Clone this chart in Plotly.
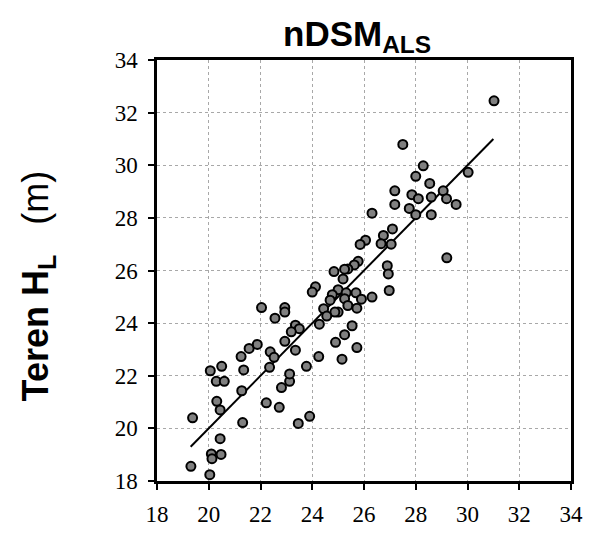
import plotly.graph_objects as go

# Measured data (nDSM_ALS on x, field height H_L on y)
x_vals = [
    22.56, 23.35, 23.50, 23.19, 22.94, 23.35, 21.56, 21.875, 21.25, 22.375,
    22.525, 22.35, 21.35, 20.06, 20.50, 20.29, 20.60, 21.275, 20.31, 20.44,
    19.375, 21.31, 22.225, 22.725, 22.81, 23.125, 23.125, 23.775, 23.46, 23.90,
    20.44, 20.10, 20.475, 20.125, 19.31, 20.04, 22.04, 22.94, 22.94,
    26.31, 26.75, 27.10, 26.06, 25.85, 26.66, 27.05, 25.775, 25.625, 25.375,
    25.25, 24.84, 25.19, 26.90, 26.94, 26.975, 24.125, 24.00, 25.00, 24.775,
    25.31, 25.69, 25.90, 26.31, 25.25, 24.69, 25.375, 25.725, 24.44, 25.00,
    24.875, 24.56, 24.275, 25.54, 25.25, 24.90, 25.725, 24.25, 25.15,
    31.025, 27.50, 28.29, 28.00, 28.54, 30.025, 27.19, 27.85, 28.10, 28.60,
    29.06, 29.19, 29.56, 27.19, 27.75, 28.00, 28.60, 29.20,
]
y_vals = [
    24.19, 23.92, 23.79, 23.67, 23.31, 22.97, 23.04, 23.19, 22.73, 22.91,
    22.70, 22.32, 22.22, 22.19, 22.36, 21.79, 21.79, 21.43, 21.03, 20.70,
    20.40, 20.22, 20.97, 20.80, 21.55, 21.79, 22.07, 22.36, 20.19, 20.46,
    19.61, 19.03, 19.01, 18.85, 18.56, 18.24, 24.59, 24.59, 24.42,
    28.18, 27.33, 27.58, 27.15, 26.99, 27.02, 27.00, 26.35, 26.21, 26.06,
    26.05, 25.96, 25.68, 26.18, 25.87, 25.24, 25.38, 25.18, 25.27, 25.08,
    25.15, 25.15, 24.91, 24.99, 24.93, 24.87, 24.67, 24.57, 24.55, 24.42,
    24.42, 24.27, 23.96, 23.90, 23.56, 23.27, 23.07, 22.73, 22.63,
    32.45, 30.79, 29.98, 29.58, 29.31, 29.73, 29.03, 28.88, 28.73, 28.79,
    29.03, 28.73, 28.51, 28.51, 28.36, 28.12, 28.12, 26.48,
]

# Fitted line end points
fit_x = [19.3, 31.0]
fit_y = [19.3, 31.0]

tick_vals = [18, 20, 22, 24, 26, 28, 30, 32, 34]
tick_text = [str(v) for v in tick_vals]

SERIF = "Times New Roman, Liberation Serif, serif"
SANS = "Arial, Liberation Sans, sans-serif"

fig = go.Figure()
fig.add_trace(go.Scatter(
    x=fit_x, y=fit_y, mode="lines",
    line=dict(color="black", width=2), showlegend=False, hoverinfo="skip",
))
fig.add_trace(go.Scatter(
    x=x_vals, y=y_vals, mode="markers",
    marker=dict(size=9, color="#808080", line=dict(color="black", width=2)),
    showlegend=False,
))

axis_common = dict(
    range=[18, 34], tickmode="array", tickvals=tick_vals, ticktext=tick_text,
    showline=True, linecolor="black", linewidth=2.5, mirror=True,
    ticks="outside", ticklen=6, tickwidth=2, tickcolor="black",
    showgrid=True, gridcolor="#a8a8a8", gridwidth=1, griddash="dot",
    zeroline=False,
    tickfont=dict(family=SERIF, size=23, color="black"),
)

fig.update_layout(
    width=595, height=539,
    margin=dict(l=157, r=12, t=60, b=37),
    paper_bgcolor="white", plot_bgcolor="white",
    xaxis=dict(**axis_common, ticklabelstandoff=5),
    yaxis=dict(**axis_common, ticklabelstandoff=6),
    annotations=[
        dict(
            text="<b>nDSM<sub>ALS</sub></b>",
            xref="paper", yref="paper", x=0.484, y=1.0,
            xanchor="center", yanchor="bottom", yshift=0, showarrow=False,
            font=dict(family=SANS, size=35, color="black"),
        ),
        dict(
            text="<b>Teren H<sub>L</sub></b>&nbsp;&nbsp;&nbsp;(m)",
            xref="paper", yref="paper", x=-0.288, y=0.464,
            xanchor="center", yanchor="middle", textangle=-90, showarrow=False,
            font=dict(family=SANS, size=36, color="black"),
        ),
    ],
)

fig.write_html(
    "out.html",
    config={"displayModeBar": False},
    post_script=(
        "document.body.style.margin='0';"
        "document.body.style.overflow='hidden';"
        "document.documentElement.style.overflow='hidden';"
    ),
)
